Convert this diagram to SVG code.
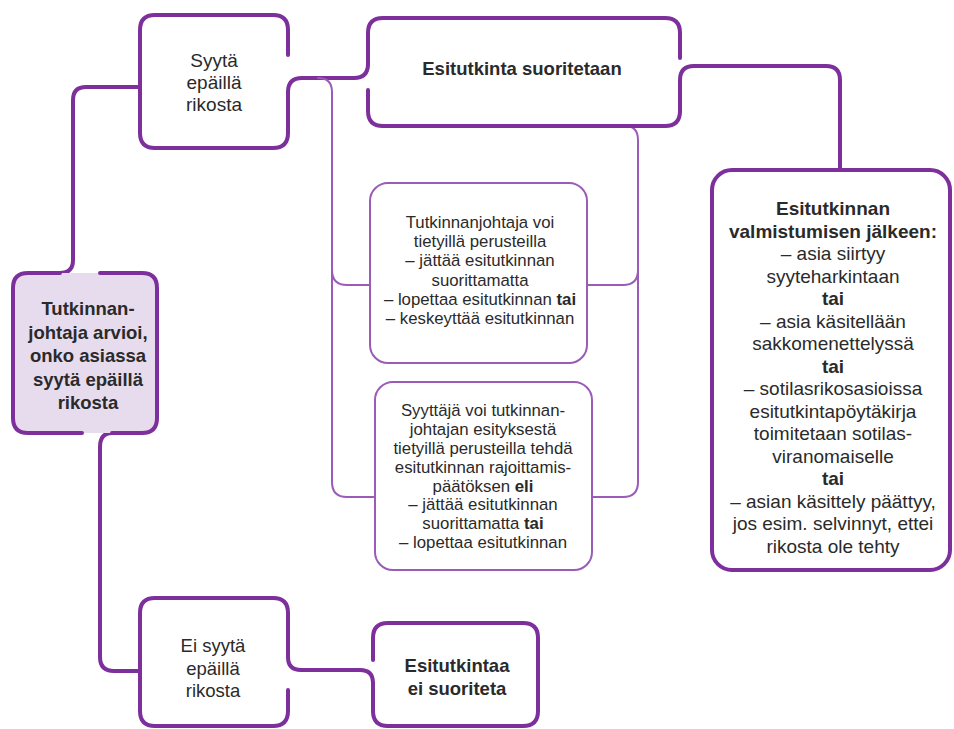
<svg xmlns="http://www.w3.org/2000/svg" width="954" height="729" viewBox="0 0 954 729">
<style>
.thick{fill:none;stroke:#7d2f9c;stroke-width:4;stroke-linecap:round;stroke-linejoin:round}
.thin{fill:none;stroke:#9a5cb6;stroke-width:2;stroke-linecap:round;stroke-linejoin:round}
text{font-family:"Liberation Sans",Arial,sans-serif;fill:#2a2a2a;text-anchor:middle}
.t19{font-size:19px}
.t185{font-size:18.5px}
.sm{font-size:16.8px}
.b{font-weight:700}
</style>
<rect width="954" height="729" fill="#ffffff"/>
<g id="connectors">
<path class="thick" d="M288,92 Q288,78 302,78 H354 Q368,78 368,64"/>
<path class="thick" d="M680,111 V80 Q680,66 694,66 H826 Q840,66 840,80 V170"/>
<path class="thick" d="M140,87 H86 Q73,87 73,100 V260 Q73,273 60,273"/>
<path class="thick" d="M112,433 Q100,433 100,447 V657 Q100,671 114,671 H140"/>
<path class="thick" d="M288,637 V657 Q288,670 301,670 H360 Q373,670 373,683"/>
<path class="thin" d="M318,78 Q332,78 332,92 V482 Q332,497 347,497 H375"/>
<path class="thin" d="M332,270 Q332,285 347,285 H370"/>
<path class="thin" d="M625,126 Q638,126 638,140 V482 Q638,497 623,497 H592"/>
<path class="thin" d="M638,270 Q638,285 623,285 H587"/>
</g>
<g id="node-syyta">
<path class="thick" d="M288,55 V30 Q288,15 273,15 H155 Q140,15 140,30 V133 Q140,148 155,148 H273 Q288,148 288,133 V92"/>
<text class="t19"><tspan x="214" y="67">Syytä</tspan><tspan x="214" y="89">epäillä</tspan><tspan x="214" y="111">rikosta</tspan></text>
</g>
<g id="node-suoritetaan">
<path class="thick" d="M368,64 V33 Q368,18 383,18 H665 Q680,18 680,33 V58"/>
<path class="thick" d="M368,90 V111 Q368,126 383,126 H665 Q680,126 680,111"/>
<text class="t185 b" x="522" y="75">Esitutkinta suoritetaan</text>
</g>
<g id="node-arvioi">
<path d="M28,273 H142 Q157,273 157,288 V418 Q157,433 142,433 H28 Q13,433 13,418 V288 Q13,273 28,273 Z" fill="#e7dbee"/>
<path class="thick" d="M60,273 H28 Q13,273 13,288 V418 Q13,433 28,433 H82"/>
<path class="thick" d="M100,273 H142 Q157,273 157,288 V418 Q157,433 142,433 H112"/>
<text class="t185 b"><tspan x="88" y="315">Tutkinnan-</tspan><tspan x="88" y="338.5">johtaja arvioi,</tspan><tspan x="88" y="362">onko asiassa</tspan><tspan x="88" y="385.5">syytä epäillä</tspan><tspan x="88" y="409">rikosta</tspan></text>
</g>
<g id="node-jalkeen">
<rect class="thick" x="712" y="170" width="238" height="400" rx="20"/>
<text class="t19"><tspan class="b" x="833" y="215">Esitutkinnan</tspan><tspan class="b" x="833" y="237.5">valmistumisen jälkeen:</tspan><tspan x="833" y="260">– asia siirtyy</tspan><tspan x="833" y="282.5">syyteharkintaan</tspan><tspan class="b" x="833" y="305">tai</tspan><tspan x="833" y="327.5">– asia käsitellään</tspan><tspan x="833" y="350">sakkomenettelyssä</tspan><tspan class="b" x="833" y="372.5">tai</tspan><tspan x="833" y="395">– sotilasrikosasioissa</tspan><tspan x="833" y="417.5">esitutkintapöytäkirja</tspan><tspan x="833" y="440">toimitetaan sotilas-</tspan><tspan x="833" y="462.5">viranomaiselle</tspan><tspan class="b" x="833" y="485">tai</tspan><tspan x="833" y="507.5">– asian käsittely päättyy,</tspan><tspan x="833" y="530">jos esim. selvinnyt, ettei</tspan><tspan x="833" y="552.5">rikosta ole tehty</tspan></text>
</g>
<g id="node-tutkinnanjohtaja">
<rect class="thin" x="370" y="183" width="217" height="180" rx="18"/>
<text class="sm"><tspan x="480" y="228">Tutkinnanjohtaja voi</tspan><tspan x="480" y="247">tietyillä perusteilla</tspan><tspan x="480" y="266">– jättää esitutkinnan</tspan><tspan x="480" y="285.5">suorittamatta</tspan><tspan x="480" y="304.5">– lopettaa esitutkinnan <tspan class="b">tai</tspan></tspan><tspan x="480" y="324">– keskeyttää esitutkinnan</tspan></text>
</g>
<g id="node-syyttaja">
<rect class="thin" x="375" y="382" width="217" height="188" rx="18"/>
<text class="sm"><tspan x="483" y="416">Syyttäjä voi tutkinnan-</tspan><tspan x="483" y="435">johtajan esityksestä</tspan><tspan x="483" y="454">tietyillä perusteilla tehdä</tspan><tspan x="483" y="473">esitutkinnan rajoittamis-</tspan><tspan x="483" y="491.5">päätöksen <tspan class="b">eli</tspan></tspan><tspan x="483" y="510">– jättää esitutkinnan</tspan><tspan x="483" y="529">suorittamatta <tspan class="b">tai</tspan></tspan><tspan x="483" y="548">– lopettaa esitutkinnan</tspan></text>
</g>
<g id="node-ei-syyta">
<path class="thick" d="M288,637 V613 Q288,598 273,598 H155 Q140,598 140,613 V711 Q140,726 155,726 H273 Q288,726 288,711 V690"/>
<text class="t185"><tspan x="213" y="652">Ei syytä</tspan><tspan x="213" y="675">epäillä</tspan><tspan x="213" y="697">rikosta</tspan></text>
</g>
<g id="node-ei-suoriteta">
<path class="thick" d="M373,660 V638 Q373,623 388,623 H523 Q538,623 538,638 V711 Q538,726 523,726 H388 Q373,726 373,711 V683"/>
<text class="t185 b"><tspan x="457" y="672">Esitutkintaa</tspan><tspan x="457" y="695">ei suoriteta</tspan></text>
</g>
</svg>
